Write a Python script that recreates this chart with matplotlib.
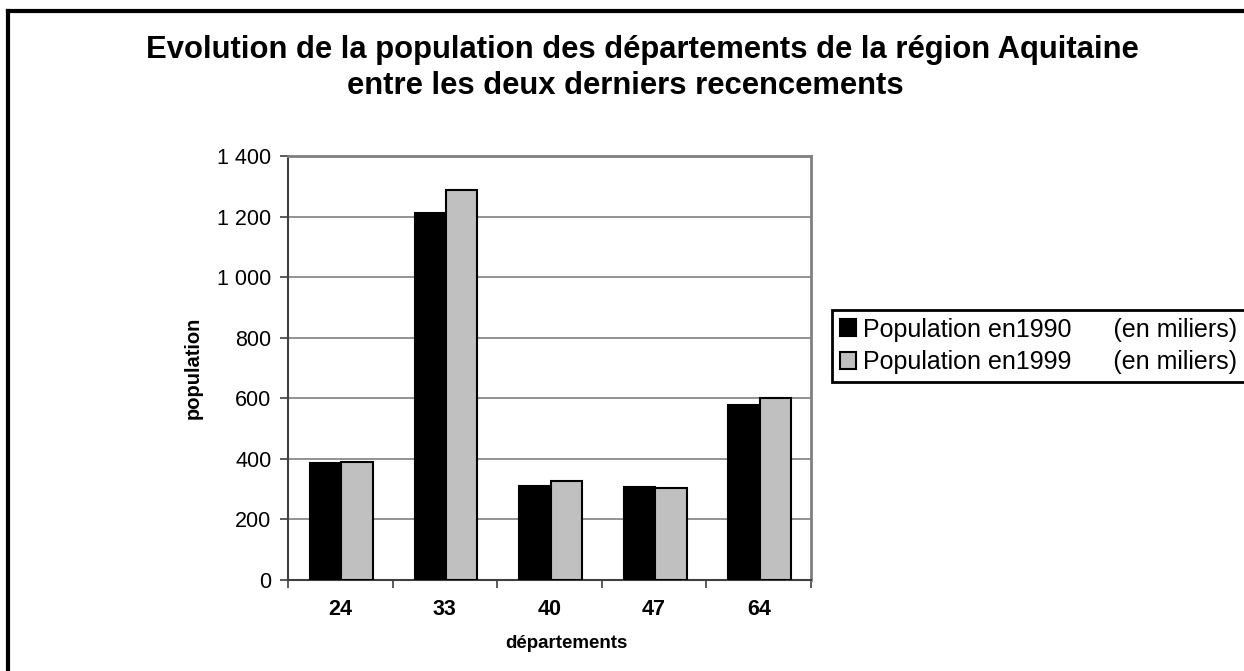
import matplotlib.pyplot as plt
import numpy as np
from matplotlib.lines import Line2D

plt.rcParams['font.family'] = ['Liberation Sans', 'DejaVu Sans']

departements = ['24', '33', '40', '47', '64']
pop_1990 = [386, 1213, 311, 306, 578]
pop_1999 = [388, 1287, 327, 305, 600]
labels = ['Population en1990      (en miliers)', 'Population en1999      (en miliers)']

fig = plt.figure(figsize=(12.44, 6.71), dpi=100)
ax = fig.add_axes([288 / 1244, 1 - 580 / 671, 523 / 1244, 424 / 671])

x = np.arange(len(departements))
w = 0.3
ax.bar(x - w / 2 + 0.01, pop_1990, w, color='black', edgecolor='black', linewidth=1.5,
       label=labels[0], zorder=3)
ax.bar(x + w / 2 + 0.01, pop_1999, w, color='#c0c0c0', edgecolor='black', linewidth=1.5,
       label=labels[1], zorder=3)

ax.set_xlim(-0.5, len(departements) - 0.5)
ax.set_ylim(0, 1400)
ax.set_yticks(range(0, 1401, 200))
ax.set_yticklabels([f'{v:,}'.replace(',', ' ') for v in range(0, 1401, 200)], fontsize=15.5)
ax.yaxis.grid(True, color='#808080', linewidth=1.2, zorder=0)

ax.set_xticks(x)
ax.set_xticklabels(departements, fontsize=15.5, fontweight='bold')
ax.set_xticks(np.arange(-0.5, len(departements), 1), minor=True)
ax.tick_params(axis='x', which='major', length=0, pad=14)
ax.tick_params(axis='x', which='minor', length=6, width=1.2, color='#404040')
ax.tick_params(axis='y', length=6, width=1.2, color='#404040', pad=6)

for side in ['left', 'bottom']:
    ax.spines[side].set_color('#404040')
    ax.spines[side].set_linewidth(1.5)
for side in ['top', 'right']:
    ax.spines[side].set_color('#808080')
    ax.spines[side].set_linewidth(2)

ax.set_xlabel('départements', fontsize=13.5, fontweight='bold')
ax.xaxis.set_label_coords((566 - 288) / 523, -(635 - 580) / 424)
ax.set_ylabel('population', fontsize=14.5, fontweight='bold')
ax.yaxis.set_label_coords(-(288 - 203) / 523, 0.5)

fig.text(642 / 1244, 1 - 50 / 671, 'Evolution de la population des départements de la région Aquitaine',
         ha='center', va='center', fontsize=22.3, fontweight='bold')
fig.text(625 / 1244, 1 - 86 / 671, 'entre les deux derniers recencements',
         ha='center', va='center', fontsize=22.3, fontweight='bold')

fig.legend(loc='upper left', bbox_to_anchor=(832 / 1244, 1 - 310 / 671), fontsize=18,
           fancybox=False, edgecolor='black', framealpha=1, handlelength=0.64,
           handleheight=0.64, handletextpad=0.3, borderpad=0.3, labelspacing=0.35,
           borderaxespad=0)
fig.legends[0].get_frame().set_linewidth(2)

fig.add_artist(Line2D([8 / 1244, 1], [1 - 11 / 671, 1 - 11 / 671], color='black', linewidth=3))
fig.add_artist(Line2D([8 / 1244, 8 / 1244], [0, 1 - 11 / 671], color='black', linewidth=3))

fig.savefig('out.png', dpi=100)
